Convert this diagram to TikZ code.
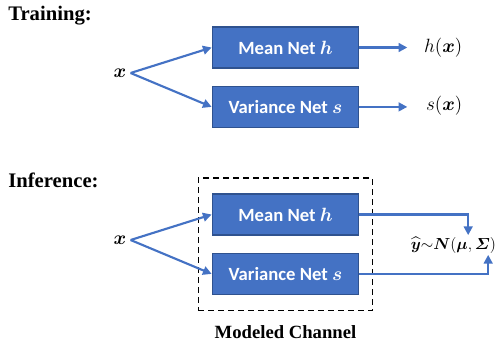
\documentclass[tikz,border=0pt]{standalone}
\usepackage{amsmath,amssymb}
\usepackage{fontspec}
\setmainfont{Liberation Serif}
\newfontfamily\netfont{Carlito}
\usetikzlibrary{arrows.meta, positioning, fit}
\definecolor{netBlue}{HTML}{4472C4}
\definecolor{netEdge}{HTML}{2F528F}

\begin{document}
\begin{tikzpicture}[
  x=0.75pt, y=-0.75pt,
  netbox/.style={
    fill=netBlue, draw=netEdge,
    text=white, font=\netfont\bfseries\fontsize{14}{16}\selectfont,
    minimum width=110pt, minimum height=30.75pt,
    inner sep=0pt, line width=0.8pt
  },
  headline/.style={
    font=\bfseries\fontsize{15.5}{18}\selectfont,
    anchor=base west, inner sep=0pt
  },
  caption/.style={
    font=\bfseries\fontsize{14}{16}\selectfont,
    inner sep=3pt
  },
  inlabel/.style={font=\fontsize{14}{16}\selectfont, inner sep=3pt},
  outlabel/.style={
    font=\fontsize{14}{16}\selectfont,
    inner sep=0pt, text width=30pt, align=right, anchor=east
  },
  chanbox/.style={
    draw=black, line width=1.1pt, dash pattern=on 4.5pt off 3pt,
    inner xsep=10pt, inner ysep=11.5pt
  },
  arr/.style={-{Triangle[length=6.5pt, width=6.5pt]}, line width=1.6pt, netBlue},
  node distance=13pt
]
\useasboundingbox (0,0) rectangle (498,343);

%% === Training ===
\node[headline] (train) at (8,20) {Training:};

\node[netbox] (mean1) at (285.5,47.5) {Mean Net $\boldsymbol{h}$};
\node[netbox, below=of mean1] (var1) {Variance Net $\boldsymbol{s}$};

\node[inlabel] (x1) at (120,73) {$\boldsymbol{x}$};
\draw[arr] (x1.east) -- (mean1.west);
\draw[arr] (x1.east) -- (var1.west);

\node[outlabel] (hx) at (462.5,47.5) {$h(\boldsymbol{x})$};
\node[outlabel] (sx) at (462.5,105.5) {$s(\boldsymbol{x})$};
\draw[arr, shorten >=11pt] (mean1.east) -- (mean1.east -| hx.west);
\draw[arr, shorten >=11pt] (var1.east) -- (var1.east -| sx.west);

%% === Inference ===
\node[headline] (infer) at (8,187) {Inference:};

\node[netbox] (mean2) at (285.5,214.5) {Mean Net $\boldsymbol{h}$};
\node[netbox, below=of mean2] (var2) {Variance Net $\boldsymbol{s}$};

\node[chanbox, fit=(mean2) (var2)] (channel) {};
\node[caption, below=8pt of channel] (chlabel) {Modeled Channel};

\node[inlabel] (x2) at (120,240) {$\boldsymbol{x}$};
\draw[arr] (x2.east) -- (mean2.west);
\draw[arr] (x2.east) -- (var2.west);

\node[inlabel, inner sep=1pt, anchor=east, font=\fontsize{13}{15}\selectfont] (yhat) at (497.5,245)
  {$\widehat{\boldsymbol{y}}\mathord{\sim}\boldsymbol{N}(\boldsymbol{\mu},\boldsymbol{\varSigma})$};
\draw[arr] (mean2.east) -| ([xshift=-22pt]yhat.north east);
\draw[arr] (var2.east) -| ([xshift=-7pt]yhat.south east);

\end{tikzpicture}
\end{document}
